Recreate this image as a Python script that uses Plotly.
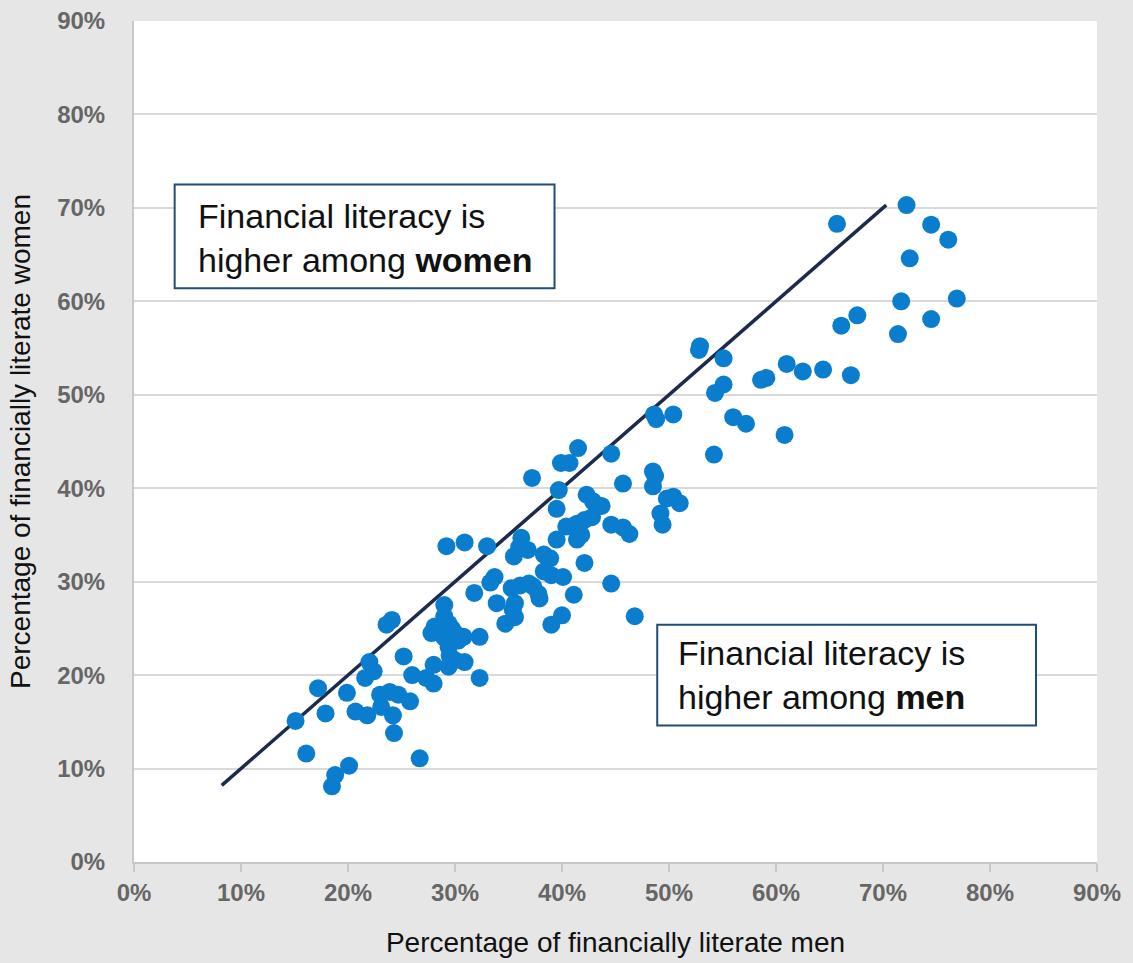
import plotly.graph_objects as go

# percentage of financially literate men (x) and women (y), one point per economy
men = [15.1, 16.1, 17.2, 17.9, 18.8, 18.5, 19.9, 20.1, 20.7, 21.8, 22.0, 22.4, 21.6, 25.2, 23.0,
       23.9, 24.7, 23.1, 24.2, 25.8, 24.3, 26.0, 26.7, 23.6, 24.1,
       27.3, 28.0, 28.0, 28.1, 27.8, 28.6, 29.4, 29.7, 30.0, 30.8, 30.3, 29.4, 29.5, 30.0, 30.9,
       29.4, 29.0, 29.0, 32.3, 32.3, 28.4, 29.0,
       29.2, 30.9, 33.0, 31.8, 33.7, 33.3, 33.9,
       35.3, 36.1, 36.9, 37.3, 37.9, 37.8, 35.6, 35.4, 34.7, 35.6, 36.2, 36.0, 36.8, 35.5,
       38.3, 39.0, 40.1, 37.2, 39.0, 40.0, 41.1, 42.1, 44.6, 46.8,
       39.7, 39.5, 39.5, 39.9, 40.7, 41.5, 44.6, 45.7, 42.3, 42.9, 43.7, 44.6, 45.7, 46.3,
       40.4, 41.4, 42.1, 42.8, 41.4, 41.8, 38.3, 38.9,
       48.5, 48.7, 48.5, 49.8, 50.4, 51.0, 49.2, 49.4, 48.6, 48.8, 50.4, 54.2, 52.9, 52.8,
       55.1, 55.1, 54.3, 56.0, 57.2, 58.6, 59.1, 60.8,
       61.0, 62.5, 64.4, 67.0, 65.7, 72.2, 74.5, 76.1, 72.5, 76.9, 71.7, 67.6, 66.1, 74.5, 71.4]
women = [15.1, 11.6, 18.6, 15.9, 9.3, 8.1, 18.1, 10.3, 16.1, 15.7, 21.4, 20.4, 19.7, 22.0, 17.9,
         18.2, 17.9, 16.6, 15.7, 17.2, 13.8, 20.0, 11.1, 25.4, 25.9,
         19.7, 19.1, 21.1, 25.2, 24.5, 24.5, 25.5, 25.0, 24.5, 24.1, 23.7, 23.0, 22.1, 21.6, 21.4,
         20.9, 27.5, 26.3, 24.1, 19.7, 25.0, 24.0,
         33.8, 34.2, 33.8, 28.8, 30.5, 29.9, 27.7,
         29.3, 29.6, 29.8, 29.5, 28.2, 28.7, 27.7, 27.0, 25.5, 26.2, 34.7, 33.7, 33.4, 32.7,
         31.1, 30.7, 30.5, 41.1, 25.4, 26.4, 28.6, 32.0, 29.8, 26.3,
         39.8, 37.8, 34.5, 42.7, 42.7, 44.3, 43.7, 40.5, 39.3, 38.6, 38.1, 36.1, 35.8, 35.1,
         35.9, 36.2, 36.6, 36.9, 34.5, 35.0, 32.9, 32.5,
         41.8, 41.3, 40.2, 38.9, 39.1, 38.4, 37.3, 36.1, 47.9, 47.4, 47.9, 43.6, 55.2, 54.8,
         53.9, 51.1, 50.2, 47.6, 46.9, 51.6, 51.8, 45.7,
         53.3, 52.5, 52.7, 52.1, 68.3, 70.3, 68.2, 66.6, 64.6, 60.3, 60.0, 58.5, 57.4, 58.1, 56.5]

# equality line (women = men)
parity = [8.2, 70.3]
ticks = list(range(0, 91, 10))
tick_labels = [f"{t}%" for t in ticks]

fig = go.Figure()
fig.add_trace(go.Scatter(x=parity, y=parity, mode="lines",
                         line=dict(color="#1c2b4b", width=3.5), hoverinfo="skip"))
fig.add_trace(go.Scatter(x=men, y=women, mode="markers",
                         marker=dict(color="#0b7dcf", size=18, line=dict(width=0))))

# text boxes
fig.add_shape(type="rect", x0=3.8, x1=39.3, y0=61.4, y1=72.5,
              line=dict(color="#1f4e79", width=2), fillcolor="white", layer="above")
fig.add_shape(type="rect", x0=48.9, x1=84.3, y0=14.6, y1=25.4,
              line=dict(color="#1f4e79", width=2), fillcolor="white", layer="above")
fig.add_annotation(x=5.8, y=66.8, xanchor="left", yanchor="middle", align="left", showarrow=False,
                   text="Financial literacy is<br>higher among <b>women</b>",
                   font=dict(family="Arial, Liberation Sans", size=34, color="#111111"))
fig.add_annotation(x=50.7, y=20.0, xanchor="left", yanchor="middle", align="left", showarrow=False,
                   text="Financial literacy is<br>higher among <b>men</b>",
                   font=dict(family="Arial, Liberation Sans", size=34, color="#111111"))

tickfont = dict(family="Arial, Liberation Sans", size=24, color="#666666", weight="bold")
fig.update_layout(
    width=1133, height=963,
    paper_bgcolor="#e6e6e6", plot_bgcolor="white",
    margin=dict(l=134, r=36, t=21, b=101),
    showlegend=False,
    font=dict(family="Arial, Liberation Sans"),
    xaxis=dict(range=[0, 90], tickvals=ticks, ticktext=tick_labels, showgrid=False, zeroline=False,
               automargin=False,
               showline=True, linecolor="#c8c8c8", linewidth=2,
               ticks="outside", ticklen=8, tickwidth=2, tickcolor="#c8c8c8",
               tickfont=tickfont,
               title=dict(text="Percentage of financially literate men", standoff=28,
                          font=dict(size=28, color="#111111"))),
    yaxis=dict(range=[0, 90], tickvals=ticks, ticktext=tick_labels, showgrid=True,
               gridcolor="#d9d9d9", gridwidth=2, zeroline=False, automargin=False,
               showline=True, linecolor="#c8c8c8", linewidth=2, ticks="", ticklabelstandoff=22,
               tickfont=tickfont,
               title=dict(text="Percentage of financially literate women", standoff=18,
                          font=dict(size=28, color="#111111"))),
)

fig.write_html("out.html", config={"displayModeBar": False},
               post_script="document.body.style.margin='0';")
